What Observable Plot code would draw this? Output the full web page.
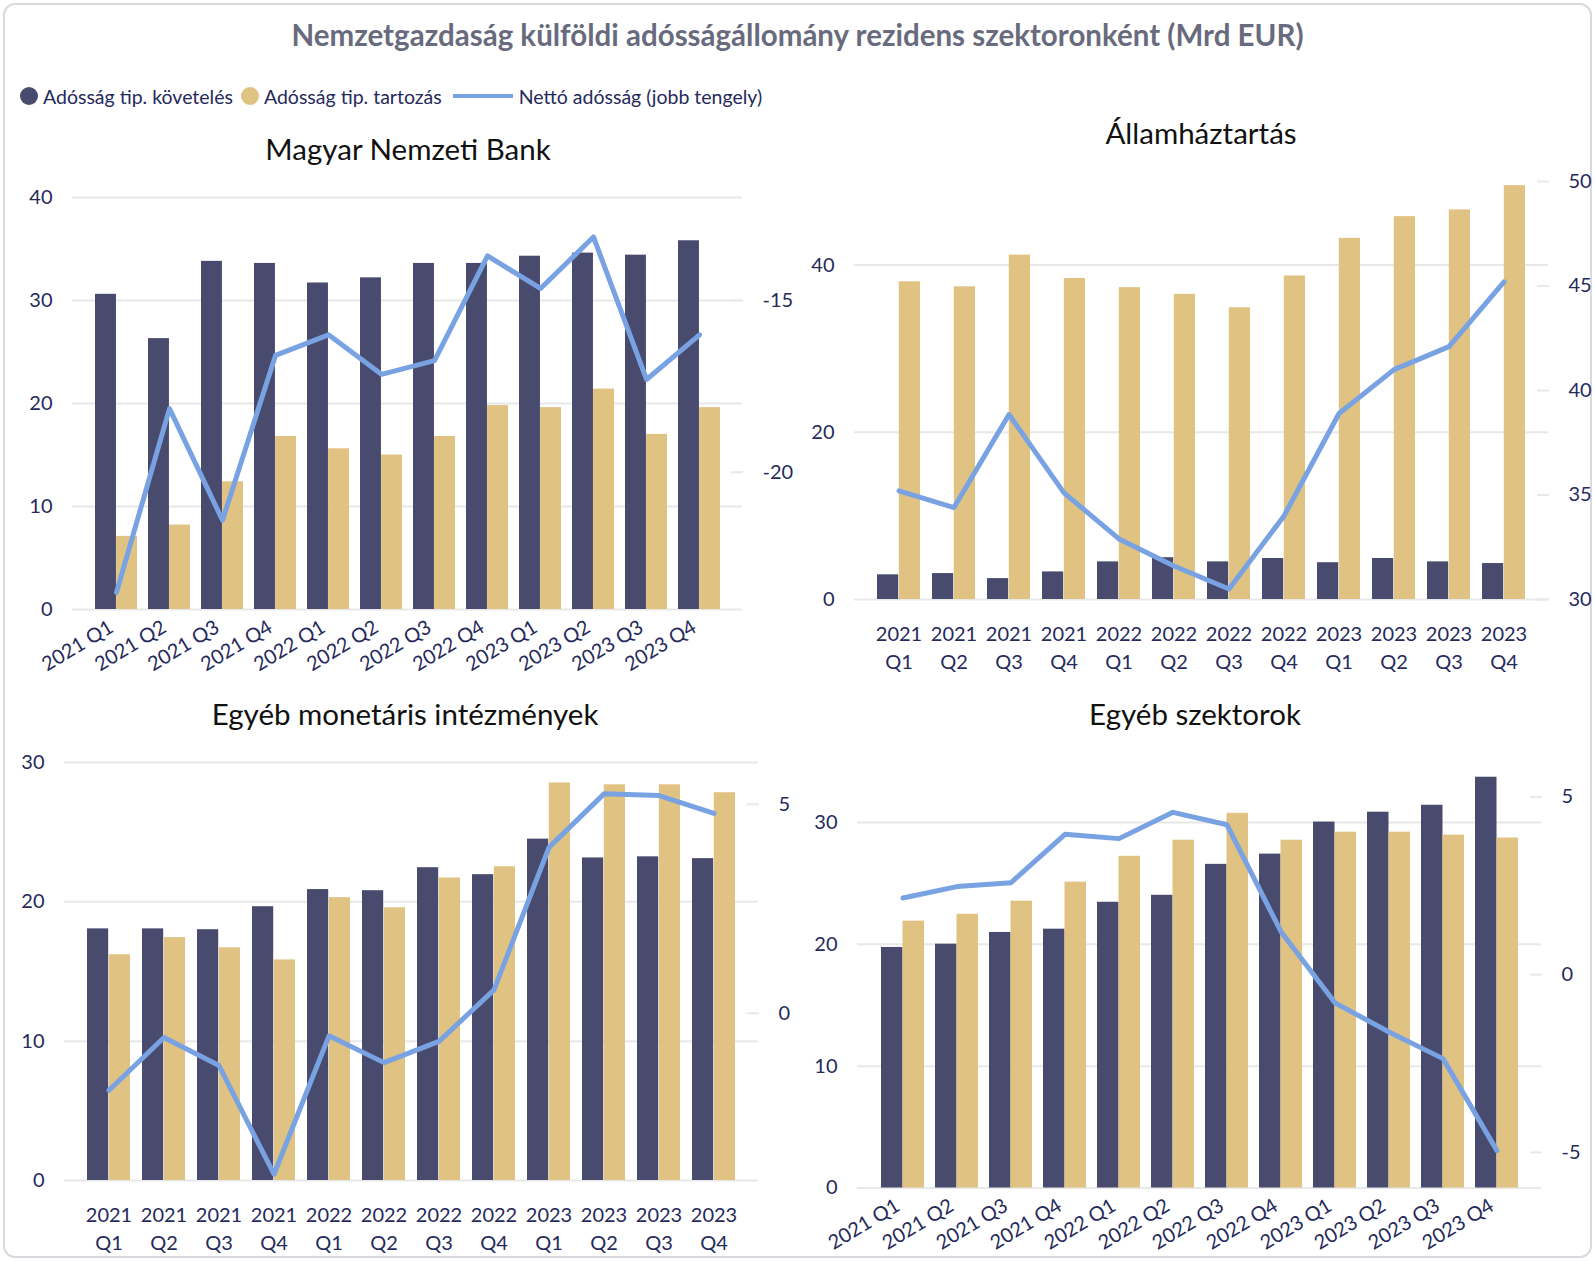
<!DOCTYPE html>
<html><head><meta charset="utf-8">
<script src="https://cdn.jsdelivr.net/npm/d3@7"></script>
<script src="https://cdn.jsdelivr.net/npm/@observablehq/plot@0.6"></script>
<style>
html,body{margin:0;padding:0;background:#fff;}
#root{position:relative;width:1595px;height:1261px;overflow:hidden;font-family:Lato,sans-serif;background:#fff;}
.card{position:absolute;left:3px;top:3px;width:1585px;height:1251px;border:2px solid #d9d9df;border-radius:12px;}
.title{position:absolute;left:0;width:1595px;text-align:center;font-weight:700;font-size:29.5px;line-height:29.5px;color:#686b7d;white-space:nowrap;}
.legend{position:absolute;left:20px;top:84px;height:24px;display:flex;align-items:center;font-size:19.5px;color:#262a5b;white-space:nowrap;}
.legend .item{display:flex;align-items:center;margin-right:8px;}
.legend .dot{width:18px;height:18px;border-radius:50%;margin-right:5px;}
.legend .ln{width:60px;height:4px;margin-right:6px;margin-left:3px;}
.ptitle{position:absolute;transform:translateX(-50%);white-space:nowrap;font-size:29.5px;line-height:29.5px;color:#111;}
.panel{position:absolute;}
.panel svg{position:absolute;left:0;top:0;overflow:visible;}
</style></head>
<body><div id="root">
<div class="card"></div>
<div class="title" style="top:20px">Nemzetgazdaság külföldi adósságállomány rezidens szektoronként (Mrd EUR)</div>
<div class="legend">
  <div class="item"><div class="dot" style="background:#484a6e"></div>Adósság tip. követelés</div>
  <div class="item"><div class="dot" style="background:#e0c283"></div>Adósság tip. tartozás</div>
  <div class="item"><div class="ln" style="background:#78a2e2"></div>Nettó adósság (jobb tengely)</div>
</div>
<div class="ptitle" style="left:408px;top:134px">Magyar Nemzeti Bank</div>
<div class="ptitle" style="left:1201px;top:118px">Államháztartás</div>
<div class="ptitle" style="left:405px;top:699px">Egyéb monetáris intézmények</div>
<div class="ptitle" style="left:1195px;top:699px">Egyéb szektorok</div>
<div class="panel" id="p1"></div>
<div class="panel" id="p2"></div>
<div class="panel" id="p3"></div>
<div class="panel" id="p4"></div>
</div>
<script>
const quarters = ["2021 Q1","2021 Q2","2021 Q3","2021 Q4","2022 Q1","2022 Q2","2022 Q3","2022 Q4","2023 Q1","2023 Q2","2023 Q3","2023 Q4"];

// Magyar Nemzeti Bank
const mnbKovetel = [30.6,26.3,33.8,33.6,31.7,32.2,33.6,33.6,34.3,34.6,34.4,35.8];
const mnbTartozas = [7.1,8.2,12.4,16.8,15.6,15.0,16.8,19.8,19.6,21.4,17.0,19.6];
const mnbNetto = [-23.5,-18.15,-21.4,-16.6,-16.0,-17.15,-16.75,-13.7,-14.65,-13.15,-17.3,-16.0];

// Államháztartás
const ahtKovetel = [2.95,3.1,2.5,3.3,4.5,5.0,4.5,4.9,4.4,4.9,4.5,4.3];
const ahtTartozas = [38.0,37.4,41.2,38.4,37.3,36.5,34.9,38.7,43.2,45.8,46.6,49.5];
const ahtNetto = [35.2,34.4,38.85,35.1,32.9,31.6,30.5,34.0,38.9,41.0,42.1,45.2];

// Egyéb monetáris intézmények
const emiKovetel = [18.06,18.06,18.0,19.65,20.88,20.8,22.45,21.95,24.5,23.15,23.23,23.1];
const emiTartozas = [16.2,17.43,16.7,15.83,20.3,19.57,21.71,22.52,28.53,28.4,28.4,27.83];
const emiNetto = [-1.84,-0.58,-1.25,-3.85,-0.54,-1.18,-0.67,0.56,3.97,5.25,5.21,4.78];

// Egyéb szektorok
const esKovetel = [19.74,20.01,20.97,21.24,23.45,24.02,26.56,27.4,30.03,30.84,31.41,33.71];
const esTartozas = [21.9,22.46,23.54,25.1,27.22,28.54,30.75,28.54,29.2,29.2,28.96,28.72];
const esNetto = [2.16,2.48,2.59,3.95,3.83,4.57,4.22,1.21,-0.79,-1.61,-2.36,-4.95];

// axis ticks / domains
const mnbLeftTicks = [0,10,20,30,40], mnbRightTicks = [-20,-15];
const ahtLeftTicks = [0,20,40], ahtRightTicks = [30,35,40,45,50];
const emiLeftTicks = [0,10,20,30], emiRightTicks = [0,5];
const esLeftTicks = [0,10,20,30], esRightTicks = [-5,0,5];

const DARK = "#484a6e", GOLD = "#e0c283", LINE = "#78a2e2", GRID = "#e8e8e8", TXT = "#262a5b";
const PI = 0.21, PO = 0.39;
const fmt = d => String(d);

function panel(id, cfg) {
  const el = document.getElementById(id);
  el.style.left = cfg.left + "px"; el.style.top = cfg.top + "px";
  el.style.width = cfg.width + "px"; el.style.height = cfg.height + "px";
  const data = quarters.map((q, i) => ({q, kov: cfg.kov[i], tart: cfg.tart[i], net: cfg.net[i]}));
  const bw = d3.scaleBand().domain(quarters).range([cfg.ml, cfg.width - cfg.mr]).paddingInner(PI).paddingOuter(PO).bandwidth();
  const xOpts = {type: "band", domain: quarters, paddingInner: PI, paddingOuter: PO, label: null};
  const style = {background: "transparent", fontFamily: "Lato, sans-serif", fontSize: "20px", color: TXT, overflow: "visible"};
  const common = {width: cfg.width, height: cfg.height, marginLeft: cfg.ml, marginRight: cfg.mr, marginTop: cfg.mt, marginBottom: cfg.mb, style};
  const xAxis = cfg.rotate
    ? Plot.axisX({tickRotate: -31, tickSize: 0, tickPadding: 16, dx: -5})
    : Plot.axisX({tickSize: 0, tickPadding: 22, lineHeight: 1.4, tickFormat: d => d.replace(" ", "\n")});
  const p1 = Plot.plot({
    ...common,
    x: xOpts,
    y: {domain: cfg.leftDomain, label: null},
    marks: [
      Plot.gridY(cfg.leftTicks, {stroke: GRID, strokeOpacity: 1, strokeWidth: 2}),
      Plot.barY(data, {x: "q", y: "kov", fill: DARK, insetRight: bw / 2}),
      Plot.barY(data, {x: "q", y: "tart", fill: GOLD, insetLeft: bw / 2}),
      Plot.axisY(cfg.leftTicks, {tickSize: 0, tickPadding: 20, tickFormat: fmt}),
      xAxis
    ]
  });
  const p2 = Plot.plot({
    ...common,
    x: {...xOpts, axis: null},
    y: {domain: cfg.rightDomain, label: null},
    marks: [
      Plot.axisY(cfg.rightTicks, {anchor: "right", tickSize: 12, dx: -12, tickFormat: () => "", stroke: GRID, strokeOpacity: 1, strokeWidth: 2}),
      Plot.axisY(cfg.rightTicks, {anchor: "right", tickSize: 0, tickPadding: 20, tickFormat: fmt}),
      Plot.lineY(data, {x: "q", y: "net", stroke: LINE, strokeWidth: 5, strokeLinecap: "round", strokeLinejoin: "round"})
    ]
  });
  el.appendChild(p1);
  el.appendChild(p2);
}

panel("p1", {left: 0, top: 170, width: 797, height: 519, ml: 72, mr: 55, mt: 27, mb: 80,
  leftDomain: [0, 40], leftTicks: mnbLeftTicks, rightDomain: [-24, -12], rightTicks: mnbRightTicks,
  kov: mnbKovetel, tart: mnbTartozas, net: mnbNetto, rotate: true});
panel("p2", {left: 797, top: 155, width: 798, height: 524, ml: 57, mr: 47, mt: 26, mb: 80,
  leftDomain: [0, 50], leftTicks: ahtLeftTicks, rightDomain: [30, 50], rightTicks: ahtRightTicks,
  kov: ahtKovetel, tart: ahtTartozas, net: ahtNetto, rotate: false});
panel("p3", {left: 0, top: 735, width: 797, height: 523, ml: 64, mr: 39, mt: 27, mb: 78,
  leftDomain: [0, 30], leftTicks: emiLeftTicks, rightDomain: [-4, 6], rightTicks: emiRightTicks,
  kov: emiKovetel, tart: emiTartozas, net: emiNetto, rotate: false});
panel("p4", {left: 797, top: 735, width: 798, height: 523, ml: 60, mr: 54, mt: 26, mb: 70.5,
  leftDomain: [0, 35], leftTicks: esLeftTicks, rightDomain: [-6, 6], rightTicks: esRightTicks,
  kov: esKovetel, tart: esTartozas, net: esNetto, rotate: true});
</script>
</body></html>
